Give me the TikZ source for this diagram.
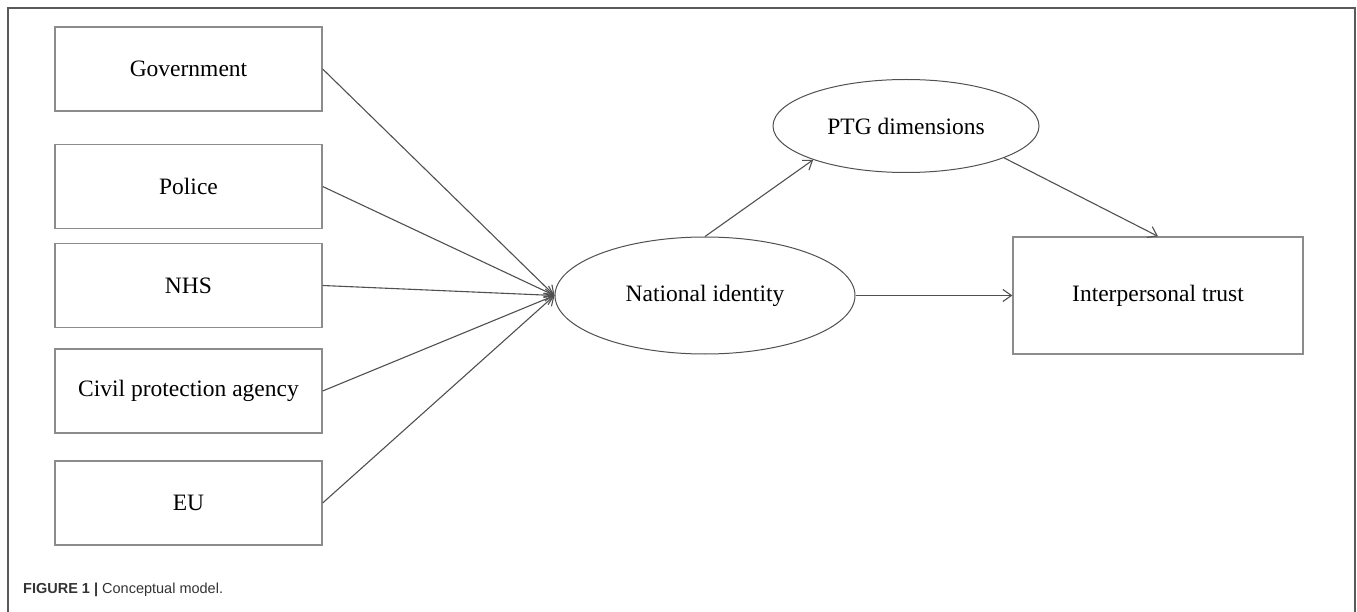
\documentclass[tikz,border=0pt]{standalone}
\usepackage{fontspec}
\setmainfont{Liberation Serif}
\newfontfamily\capfont{Liberation Sans}
\usetikzlibrary{shapes.geometric,arrows.meta}
\definecolor{boxgray}{HTML}{8C8C8C}
\definecolor{linegray}{HTML}{505050}
\definecolor{framegray}{HTML}{5A5A5A}
\definecolor{captext}{HTML}{333333}
\tikzset{
  box/.style={draw=boxgray, line width=1.3pt, rectangle, minimum width=267pt, minimum height=84pt, inner sep=0pt, font=\fontsize{23.5}{26}\selectfont},
  oval/.style={draw=linegray, line width=1pt, ellipse, inner sep=0pt, font=\fontsize{23.5}{26}\selectfont},
  conn/.style={draw=linegray, line width=1.1pt, -{Straight Barb[length=8.5pt,width=12pt,line width=1.1pt]}},
}
\begin{document}
\begin{tikzpicture}[x=1pt,y=-1pt]
\useasboundingbox (0,0) rectangle (1357,612);
% outer frame
\draw[framegray, line width=2pt] (8,630) -- (8,8) -- (1355,8) -- (1355,630);
% left boxes
\node[box] (gov) at (188.5,69) {Government};
\node[box] (pol) at (188.5,186.5) {Police};
\node[box] (nhs) at (188.5,285.5) {NHS};
\node[box] (civ) at (188.5,391) {Civil protection agency};
\node[box] (eu) at (188.5,503) {EU};
% ellipses
\node[oval, minimum width=300pt, minimum height=117pt] (ni) at (705,295.5) {National identity};
\node[oval, minimum width=266pt, minimum height=93pt] (ptg) at (906,126) {PTG dimensions};
% right box
\node[box, minimum width=290pt, minimum height=117pt] (trust) at (1158,295.5) {Interpersonal trust};
% connectors
\draw[conn] (gov.east) -- (ni.west);
\draw[conn] (pol.east) -- (ni.west);
\draw[conn] (nhs.east) -- (ni.west);
\draw[conn] (civ.east) -- (ni.west);
\draw[conn] (eu.east) -- (ni.west);
\draw[conn] (ni.north) -- (ptg.200);
\draw[conn] (ptg.-18) -- (trust.north);
\draw[conn] (ni.east) -- (trust.west);
% caption
\node[anchor=base west, inner sep=0pt, text=captext, font=\capfont\fontsize{14.5}{17}\selectfont] (cap) at (23,593) {\textbf{FIGURE 1 |} Conceptual model.};
\end{tikzpicture}
\end{document}
